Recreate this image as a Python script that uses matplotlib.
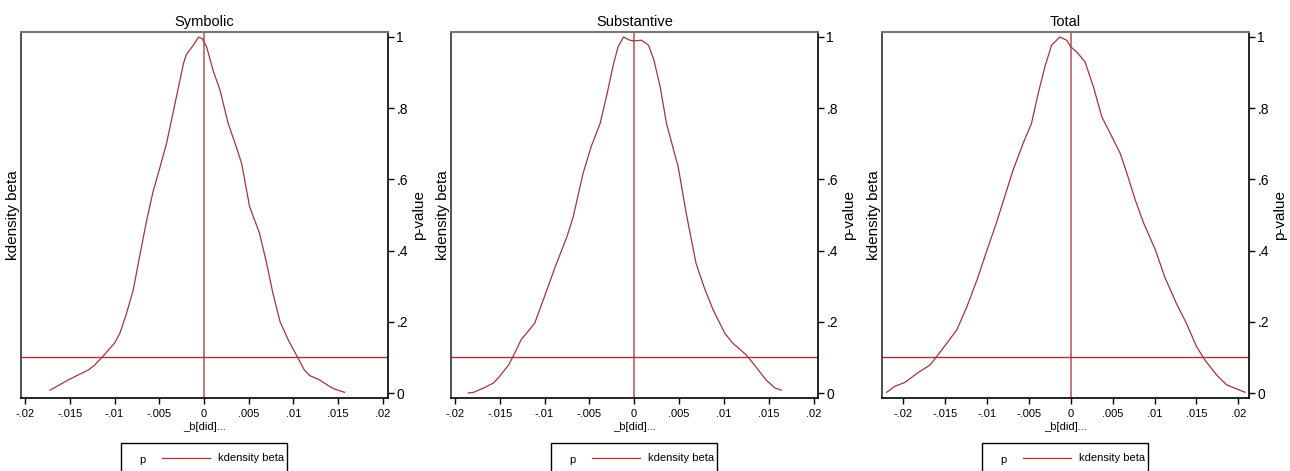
import matplotlib.pyplot as plt
from matplotlib.lines import Line2D
from matplotlib.patches import Rectangle

plt.rcParams['font.family'] = ['Liberation Sans', 'DejaVu Sans']

# Curvas de densidad (escaladas a pico 1)
titulos = ["Symbolic", "Substantive", "Total"]

sym_x = [-0.0172, -0.015, -0.0129, -0.0122, -0.0113, -0.010, -0.0094, -0.0087,
         -0.0079, -0.0072, -0.0064, -0.0057, -0.0049, -0.0042, -0.0034, -0.0023,
         -0.0020, -0.0012, -0.0006, -0.0002, 0.0003, 0.0010, 0.0018, 0.0027,
         0.0036, 0.0042, 0.0051, 0.0062, 0.0070, 0.0077, 0.0085, 0.0094, 0.0105,
         0.0112, 0.0118, 0.0129, 0.0140, 0.0146, 0.0157]
sym_y = [0.008, 0.039, 0.065, 0.079, 0.103, 0.140, 0.168, 0.220, 0.290, 0.383,
         0.486, 0.565, 0.636, 0.700, 0.794, 0.925, 0.949, 0.977, 1.000, 0.995,
         0.972, 0.907, 0.850, 0.757, 0.692, 0.645, 0.523, 0.449, 0.364, 0.280,
         0.200, 0.150, 0.098, 0.065, 0.049, 0.037, 0.019, 0.011, 0.002]

sub_x = [-0.0185, -0.0179, -0.0168, -0.0157, -0.0150, -0.0140, -0.0135, -0.0126,
         -0.0120, -0.0111, -0.0100, -0.0088, -0.0075, -0.0068, -0.0057, -0.0048,
         -0.0038, -0.0031, -0.0023, -0.0018, -0.0012, -0.0005, 0.0, 0.0008, 0.0016,
         0.0022, 0.0029, 0.0036, 0.0049, 0.0058, 0.0069, 0.0079, 0.0088, 0.0101,
         0.0110, 0.0125, 0.0134, 0.0147, 0.0157, 0.0164]
sub_y = [0.000, 0.002, 0.014, 0.028, 0.047, 0.079, 0.103, 0.150, 0.168, 0.196,
         0.271, 0.355, 0.439, 0.495, 0.617, 0.692, 0.757, 0.832, 0.925, 0.972,
         1.000, 0.991, 0.989, 0.991, 0.977, 0.935, 0.860, 0.757, 0.636, 0.505,
         0.364, 0.290, 0.234, 0.168, 0.140, 0.107, 0.079, 0.037, 0.014, 0.008]

tot_x = [-0.0220, -0.0210, -0.0198, -0.0182, -0.0168, -0.0160, -0.0148, -0.0136,
         -0.0124, -0.0112, -0.0100, -0.0089, -0.0079, -0.0069, -0.0057, -0.0047,
         -0.0039, -0.0031, -0.0023, -0.0013, -0.0005, 0.0, 0.0007, 0.0017, 0.0027,
         0.0037, 0.0049, 0.0059, 0.0067, 0.0077, 0.0087, 0.0101, 0.0112, 0.0126,
         0.0138, 0.0150, 0.0160, 0.0174, 0.0186, 0.0208]
tot_y = [0.002, 0.019, 0.030, 0.058, 0.079, 0.103, 0.140, 0.178, 0.243, 0.318,
         0.402, 0.477, 0.551, 0.626, 0.701, 0.757, 0.841, 0.916, 0.977, 1.000,
         0.991, 0.972, 0.958, 0.930, 0.860, 0.776, 0.720, 0.673, 0.617, 0.542,
         0.477, 0.402, 0.327, 0.252, 0.196, 0.131, 0.093, 0.051, 0.023, 0.002]

curvas = [(sym_x, sym_y), (sub_x, sub_y), (tot_x, tot_y)]
limites_x = [(-0.02045, 0.02056), (-0.02043, 0.0205), (-0.02255, 0.02128)]
ticks_x = [-0.02, -0.015, -0.01, -0.005, 0, 0.005, 0.01, 0.015, 0.02]
etiquetas_x = ["-.02", "-.015", "-.01", "-.005", "0", ".005", ".01", ".015", ".02"]
ticks_p = [0, 0.2, 0.4, 0.6, 0.8, 1]
etiquetas_p = ["0", ".2", ".4", ".6", ".8", "1"]
umbral_p = 0.1

color = '#a0363c'
W, H = 1290, 471
fig = plt.figure(figsize=(12.9, 4.71), dpi=100)

izquierdas = [21, 451, 882]
ancho = 367
arriba, abajo = 32, 398

for k in range(3):
    ax = fig.add_axes([izquierdas[k] / W, 1 - abajo / H, ancho / W, (abajo - arriba) / H])
    x, y = curvas[k]
    ax.plot(x, y, color=color, lw=0.9)
    ax.axhline(umbral_p, color=color, lw=1.0)
    ax.axvline(0, color=color, lw=1.1, alpha=0.85)
    ax.set_xlim(*limites_x[k])
    ax.set_ylim(-0.014, 1.014)

    ax.set_xticks(ticks_x)
    ax.set_xticklabels(etiquetas_x)
    ax.tick_params(axis='x', direction='out', length=4, width=1, labelsize=8, pad=4)
    ax.set_xlabel("_b[did]...", fontsize=8, labelpad=2)

    ax.yaxis.tick_right()
    ax.yaxis.set_label_position('right')
    ax.set_yticks(ticks_p)
    ax.set_yticklabels(etiquetas_p)
    ax.tick_params(axis='y', direction='out', length=4, width=1, labelsize=10, pad=2)
    ax.set_ylabel("p-value", fontsize=11, labelpad=3)

    fig.text((izquierdas[k] - 8) / W, 1 - (arriba + abajo) / 2 / H, "kdensity beta",
             rotation=90, ha='center', va='center', fontsize=11)

    ax.set_title(titulos[k], fontsize=10.5, pad=4)

    for lado in ['left', 'bottom', 'right']:
        ax.spines[lado].set_color('black')
        ax.spines[lado].set_linewidth(1.2)
    ax.spines['left'].set_color('#333333')
    ax.spines['top'].set_color('#777777')
    ax.spines['top'].set_linewidth(1.5)

    # Leyenda dibujada a mano, como en Stata
    x0 = izquierdas[k] + 100
    fig.patches.append(Rectangle((x0 / W, -0.05), 166 / W, (0.05 + 28 / H),
                                 transform=fig.transFigure, fill=False,
                                 edgecolor='black', lw=1.0))
    fig.text((x0 + 18) / W, 1 - 460 / H, "p", fontsize=8, va='center')
    fig.lines.append(Line2D([(x0 + 41) / W, (x0 + 89) / W], [1 - 458 / H, 1 - 458 / H],
                            transform=fig.transFigure, color=color, lw=0.9))
    fig.text((x0 + 97) / W, 1 - 458 / H, "kdensity beta", fontsize=8, va='center')

fig.savefig("out.png", dpi=100)
